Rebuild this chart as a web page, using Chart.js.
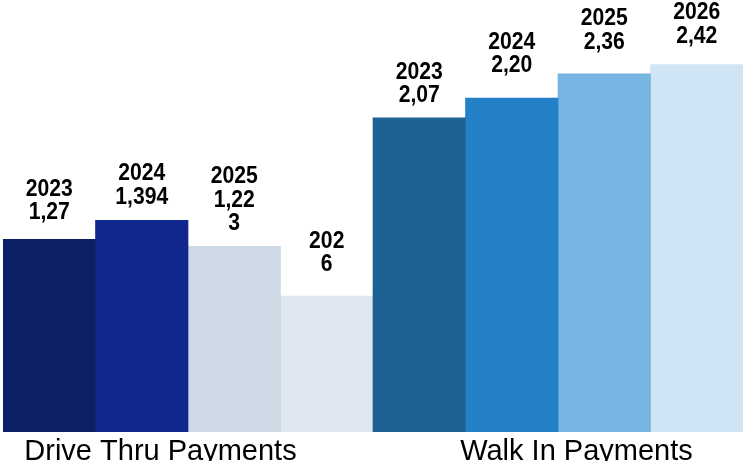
<!DOCTYPE html>
<html>
<head>
<meta charset="utf-8">
<title>Payments by Year</title>
<script src="https://cdn.jsdelivr.net/npm/chart.js@4.4.1/dist/chart.umd.min.js"></script>
<style>
    html, body { margin: 0; padding: 0; background: #ffffff; }
    #wrap { width: 743px; height: 461px; }
</style>
</head>
<body>
<div id="wrap"><canvas id="paymentsChart" width="743" height="461"></canvas></div>
<script>
    // Payment volumes per channel and year
    const categories = ['Drive Thru Payments', 'Walk In Payments'];
    const years = ['2023', '2024', '2025', '2026'];
    const driveThru = [1270, 1394, 1223, 895];
    const walkIn = [2070, 2200, 2360, 2420];

    // Text shown above each bar (wrapped as in the source deck)
    const driveThruLabels = [['2023', '1,27'], ['2024', '1,394'], ['2025', '1,22', '3'], ['202', '6']];
    const walkInLabels = [['2023', '2,07'], ['2024', '2,20'], ['2025', '2,36'], ['2026', '2,42']];

    const driveColors = ['#0d1f65', '#10278e', '#cdd9e5', '#dfe7f0'];
    const walkColors = ['#1d6195', '#2581c7', '#76b4e2', '#cfe4f4'];

    // distance from bar top to the last label line, per bar
    const driveLabelGap = [20, 16.5, 16, 25];
    const walkLabelGap = [15.5, 26, 25, 22];
    const categoryShift = [-27.5, 18.5];

    Chart.defaults.font.family = "'Liberation Sans', Arial, sans-serif";

    const barLabels = {
        id: 'barLabels',
        afterDatasetsDraw(chart) {
            const ctx = chart.ctx;
            ctx.save();
            ctx.fillStyle = '#000000';
            ctx.font = 'bold 23px "Liberation Sans", Arial, sans-serif';
            ctx.textAlign = 'center';
            ctx.textBaseline = 'alphabetic';
            chart.data.datasets.forEach((ds, i) => {
                chart.getDatasetMeta(i).data.forEach((bar, j) => {
                    const lines = j === 0 ? driveThruLabels[i] : walkInLabels[i];
                    const gap = j === 0 ? driveLabelGap[i] : walkLabelGap[i];
                    let y = bar.y - gap;
                    for (let k = lines.length - 1; k >= 0; k--) {
                        ctx.save();
                        ctx.translate(bar.x, y);
                        ctx.scale(0.92, 1);
                        ctx.fillText(lines[k], 0, 0);
                        ctx.restore();
                        y -= 23.5;
                    }
                });
            });
            ctx.restore();
        }
    };

    const categoryLabels = {
        id: 'categoryLabels',
        afterDraw(chart) {
            const ctx = chart.ctx;
            const xs = chart.scales.x;
            ctx.save();
            ctx.fillStyle = '#000000';
            ctx.font = '29px "Liberation Sans", Arial, sans-serif';
            ctx.textAlign = 'center';
            ctx.textBaseline = 'alphabetic';
            categories.forEach((c, i) => {
                ctx.fillText(c, xs.getPixelForValue(i) + categoryShift[i], 460);
            });
            ctx.restore();
        }
    };

    const ctx = document.getElementById('paymentsChart').getContext('2d');
    const paymentsChart = new Chart(ctx, {
        type: 'bar',
        data: {
            labels: categories,
            datasets: years.map((yr, i) => ({
                label: yr,
                data: [driveThru[i], walkIn[i]],
                backgroundColor: [driveColors[i], walkColors[i]],
                borderWidth: 0,
                barPercentage: 1,
                categoryPercentage: 1
            }))
        },
        options: {
            responsive: false,
            animation: false,
            layout: {
                padding: { top: 7, bottom: 29, left: 3, right: 0 }
            },
            plugins: {
                legend: { display: false },
                tooltip: { enabled: false }
            },
            scales: {
                x: { display: false },
                y: { display: false, beginAtZero: true, min: 0, max: 2800 }
            }
        },
        plugins: [barLabels, categoryLabels]
    });
</script>
</body>
</html>
